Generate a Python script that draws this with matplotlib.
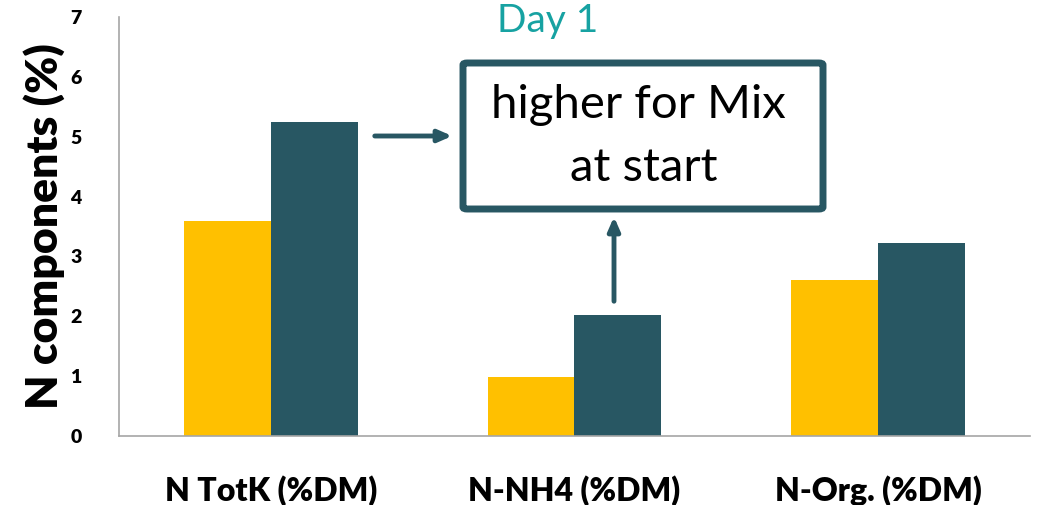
import numpy as np
import matplotlib.pyplot as plt
from matplotlib.patches import FancyBboxPatch

# Datos
categories = ['N TotK (%DM)', 'N-NH4 (%DM)', 'N-Org. (%DM)']
serie_a = [3.6, 0.98, 2.6]    # naranja
serie_b = [5.25, 2.02, 3.22]  # verde oscuro
y_ticks = [0, 1, 2, 3, 4, 5, 6, 7]

naranja = '#FFC000'
oscuro = '#285763'

plt.rcParams['font.family'] = ['Lato', 'DejaVu Sans']

fig = plt.figure(figsize=(10.38, 5.05), dpi=100)
ax = fig.add_axes([0.1146, 0.1366, 0.8777, 0.8297])

x = np.arange(len(categories))
w = 0.286
ax.bar(x - w / 2, serie_a, width=w, color=naranja)
ax.bar(x + w / 2, serie_b, width=w, color=oscuro)

ax.set_xlim(-0.5, 2.5)
ax.set_ylim(0, 7)
ax.set_yticks(y_ticks)
ax.set_yticklabels([str(t) for t in y_ticks], fontsize=14, fontweight='heavy')
ax.set_xticks(x)
ax.set_xticklabels(categories, fontsize=23, fontweight='heavy')
ax.tick_params(axis='x', length=0, pad=28)
ax.tick_params(axis='y', length=0, pad=27)
ax.set_ylabel('N components (%)', fontsize=32, fontweight='heavy', labelpad=4)

for s in ['top', 'right']:
    ax.spines[s].set_visible(False)
for s in ['left', 'bottom']:
    ax.spines[s].set_color('#A6A6A6')
    ax.spines[s].set_linewidth(1.2)

# Titulo
fig.text(548 / 1038, 1 - 21 / 505, 'Day 1', color='#17A2A2', fontsize=28,
         ha='center', va='center')

# Caja de texto
box = FancyBboxPatch((463 / 1038, 1 - 209 / 505), 360 / 1038, 146 / 505,
                     boxstyle='round,pad=0,rounding_size=0.004',
                     transform=fig.transFigure, facecolor='white',
                     edgecolor=oscuro, linewidth=5)
fig.patches.append(box)
fig.text(638 / 1038, 1 - 105 / 505, 'higher for Mix', fontsize=34,
         ha='center', va='center')
fig.text(644 / 1038, 1 - 168 / 505, 'at start', fontsize=34,
         ha='center', va='center')

# Flechas
ax.annotate('', xy=(455 / 1038, 1 - 136 / 505), xytext=(372 / 1038, 1 - 136 / 505),
            xycoords='figure fraction', textcoords='figure fraction',
            arrowprops=dict(arrowstyle='-|>,head_length=0.8,head_width=0.35',
                            color=oscuro, lw=3.5))
ax.annotate('', xy=(614 / 1038, 1 - 214 / 505), xytext=(614 / 1038, 1 - 304 / 505),
            xycoords='figure fraction', textcoords='figure fraction',
            arrowprops=dict(arrowstyle='-|>,head_length=0.8,head_width=0.35',
                            color=oscuro, lw=3.5))

plt.savefig('out.png', dpi=100)
